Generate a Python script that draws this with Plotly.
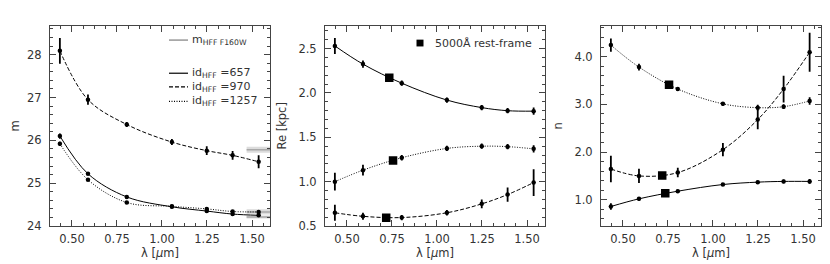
import plotly.graph_objects as go

# ---------------- data ----------------
lam = [0.4329, 0.5889, 0.8045, 1.0551, 1.2486, 1.3923, 1.5369]

# panel 1: magnitudes
m_657 = [26.10, 25.22, 24.68, 24.45, 24.35, 24.28, 24.25]
m_657_err = [0.06, 0.03, 0.02, 0.02, 0.03, 0.03, 0.04]
m_970 = [28.09, 26.95, 26.37, 25.96, 25.76, 25.65, 25.50]
m_970_err = [0.30, 0.12, 0.06, 0.07, 0.10, 0.10, 0.15]
m_1257 = [25.92, 25.08, 24.55, 24.46, 24.40, 24.34, 24.33]
m_1257_err = [0.05, 0.03, 0.02, 0.02, 0.03, 0.03, 0.03]

# HFF F160W catalogue magnitudes (centre, half-width)
hff_mag = [25.78, 24.33, 24.21]
hff_err = [0.07, 0.06, 0.035]
hff_x = [1.47, 1.60]

# panel 2: effective radius
re_657 = [2.53, 2.325, 2.11, 1.92, 1.835, 1.80, 1.795]
re_657_err = [0.09, 0.04, 0.03, 0.03, 0.03, 0.03, 0.04]
re_970 = [0.65, 0.61, 0.596, 0.65, 0.75, 0.855, 0.99]
re_970_err = [0.09, 0.04, 0.03, 0.03, 0.05, 0.08, 0.15]
re_1257 = [1.00, 1.13, 1.27, 1.375, 1.40, 1.395, 1.37]
re_1257_err = [0.10, 0.06, 0.03, 0.03, 0.03, 0.03, 0.04]

# panel 3: Sersic index
n_657 = [0.86, 1.02, 1.18, 1.32, 1.37, 1.385, 1.385]
n_657_err = [0.07, 0.04, 0.03, 0.03, 0.03, 0.04, 0.05]
n_970 = [1.645, 1.50, 1.57, 2.05, 2.68, 3.32, 4.09]
n_970_err = [0.28, 0.15, 0.10, 0.14, 0.20, 0.28, 0.41]
n_1257 = [4.24, 3.78, 3.32, 3.01, 2.93, 2.95, 3.07]
n_1257_err = [0.14, 0.07, 0.04, 0.04, 0.06, 0.05, 0.08]

# 5000 A rest-frame positions
rf_lam = [0.735, 0.718, 0.756]          # 657, 970, 1257
rf_re = [2.17, 0.593, 1.24]
rf_n = [1.135, 1.51, 3.41]

series_names = ["id<sub>HFF</sub> =657", "id<sub>HFF</sub> =970", "id<sub>HFF</sub> =1257"]
dashes = ["solid", "4px,2px", "1px,1.5px"]

x_ticks = [0.50, 0.75, 1.00, 1.25, 1.50]
x_ticklabels = ["0.50", "0.75", "1.00", "1.25", "1.50"]
m_ticks = [24, 25, 26, 27, 28]
re_ticks = [0.5, 1.0, 1.5, 2.0, 2.5]
re_ticklabels = ["0.5", "1.0", "1.5", "2.0", "2.5"]
n_ticks = [1.0, 2.0, 3.0, 4.0]
n_ticklabels = ["1.0", "2.0", "3.0", "4.0"]

# ---------------- figure ----------------
W, H = 830, 264
fig = go.Figure()

def xd(a, b):
    return [a / W, b / W]

ydom = [(H - 224) / H, (H - 18) / H]
panels = [xd(42, 262), xd(317, 537), xd(593, 813)]

FONT = "DejaVu Sans"
TXT = "#333333"
FS = 11.5

def add_series(xa, ya, ys, errs, dash, color="black"):
    fig.add_trace(go.Scatter(
        x=lam, y=ys, mode="lines", line=dict(color=color, width=1, dash=dash, shape="spline"),
        xaxis=xa, yaxis=ya, showlegend=False, hoverinfo="skip"))
    fig.add_trace(go.Scatter(
        x=lam, y=ys, mode="markers",
        marker=dict(color="black", size=4.5),
        error_y=dict(type="data", array=errs, visible=True, color="black", thickness=1.8, width=0),
        xaxis=xa, yaxis=ya, showlegend=False, hoverinfo="skip"))

# HFF bands in panel 1
for c, e in zip(hff_mag, hff_err):
    fig.add_trace(go.Scatter(
        x=[hff_x[0], hff_x[1], hff_x[1], hff_x[0], hff_x[0]],
        y=[c - e, c - e, c + e, c + e, c - e],
        fill="toself", fillcolor="#dcdcdc", line=dict(width=0), mode="lines",
        xaxis="x", yaxis="y", showlegend=False, hoverinfo="skip"))
    fig.add_trace(go.Scatter(
        x=hff_x, y=[c, c], mode="lines", line=dict(color="#a8a8a8", width=1.5),
        xaxis="x", yaxis="y", showlegend=False, hoverinfo="skip"))

for ys, es, d in zip([m_657, m_970, m_1257], [m_657_err, m_970_err, m_1257_err], dashes):
    add_series("x", "y", ys, es, d)
for ys, es, d in zip([re_657, re_970, re_1257], [re_657_err, re_970_err, re_1257_err], dashes):
    add_series("x2", "y2", ys, es, d)
for ys, es, d in zip([n_657, n_970, n_1257], [n_657_err, n_970_err, n_1257_err], dashes):
    add_series("x3", "y3", ys, es, d)

fig.add_trace(go.Scatter(x=rf_lam, y=rf_re, mode="markers",
                         marker=dict(symbol="square", color="black", size=8.5),
                         xaxis="x2", yaxis="y2", showlegend=False, hoverinfo="skip"))
fig.add_trace(go.Scatter(x=rf_lam, y=rf_n, mode="markers",
                         marker=dict(symbol="square", color="black", size=8.5),
                         xaxis="x3", yaxis="y3", showlegend=False, hoverinfo="skip"))

def axis_common():
    return dict(
        showgrid=False, zeroline=False, showline=True, linecolor="#444444", linewidth=1,
        mirror="ticks", ticks="inside", ticklen=6, tickwidth=1, tickcolor="#444444",
        tickfont=dict(family=FONT, size=FS, color=TXT),
    )

xr = [0.378, 1.60]
for i, dom in enumerate(panels):
    k = "" if i == 0 else str(i + 1)
    ax = axis_common()
    ax.update(domain=dom, range=xr, tickvals=x_ticks, ticktext=x_ticklabels,
              minor=dict(ticks="inside", dtick=0.0625, tick0=0.5, ticklen=3, tickcolor="#444444"),
              anchor="y" + k, ticklabelstandoff=2,
              title=dict(text="λ [<i>μ</i>m]", font=dict(family=FONT, size=FS, color=TXT), standoff=4))
    fig.layout["xaxis" + k] = ax

ya = axis_common()
ya.update(domain=ydom, range=[24.0, 28.68], tickvals=m_ticks, anchor="x", ticklabelstandoff=5,
          minor=dict(ticks="inside", dtick=0.2, ticklen=3, tickcolor="#444444"),
          title=dict(text="m", font=dict(family=FONT, size=FS, color=TXT), standoff=10))
fig.layout["yaxis"] = ya

ya2 = axis_common()
ya2.update(domain=ydom, range=[0.5, 2.76], tickvals=re_ticks, ticktext=re_ticklabels, anchor="x2",
           ticklabelstandoff=5,
           minor=dict(ticks="inside", dtick=0.1, ticklen=3, tickcolor="#444444"),
           title=dict(text="Re [kpc]", font=dict(family=FONT, size=FS, color=TXT), standoff=9))
fig.layout["yaxis2"] = ya2

ya3 = axis_common()
ya3.update(domain=ydom, range=[0.45, 4.65], tickvals=n_ticks, ticktext=n_ticklabels, anchor="x3",
           ticklabelstandoff=5,
           minor=dict(ticks="inside", dtick=0.2, tick0=0, ticklen=3, tickcolor="#444444"),
           title=dict(text="n", font=dict(family=FONT, size=FS, color=TXT), standoff=9))
fig.layout["yaxis3"] = ya3

# ---- custom legend panel 1 ----
def px2paper_x(px):
    return px / W

def px2paper_y(py):
    return (H - py) / H

LFS = 11
leg_items = [("m<sub>HFF F160W</sub>", "solid", "#a8a8a8", 33, 1.8)] + \
    [(series_names[i], dashes[i], "black", y, 1.2) for i, y in enumerate([67, 81, 96])]
for text, dash, col, py, lw in leg_items:
    fig.add_shape(type="line", xref="paper", yref="paper",
                  x0=px2paper_x(161), x1=px2paper_x(180), y0=px2paper_y(py), y1=px2paper_y(py),
                  line=dict(color=col, width=lw, dash=dash))
    fig.add_annotation(xref="paper", yref="paper", x=px2paper_x(182), y=px2paper_y(py),
                       text=text, showarrow=False, xanchor="left", yanchor="middle",
                       font=dict(family=FONT, size=LFS, color=TXT))

# legend panel 2
fig.add_shape(type="rect", xref="paper", yref="paper",
              x0=px2paper_x(408.5), x1=px2paper_x(415.5), y0=px2paper_y(39.5), y1=px2paper_y(32.5),
              fillcolor="black", line=dict(width=0))
fig.add_annotation(xref="paper", yref="paper", x=px2paper_x(425), y=px2paper_y(36),
                   text="5000Å rest-frame", showarrow=False, xanchor="left", yanchor="middle",
                   font=dict(family=FONT, size=LFS, color=TXT))

fig.update_layout(width=W, height=H, autosize=False,
                  margin=dict(l=0, r=0, t=0, b=0),
                  paper_bgcolor="white", plot_bgcolor="white",
                  font=dict(family=FONT, size=FS, color=TXT))

fig.write_html("out.html")
